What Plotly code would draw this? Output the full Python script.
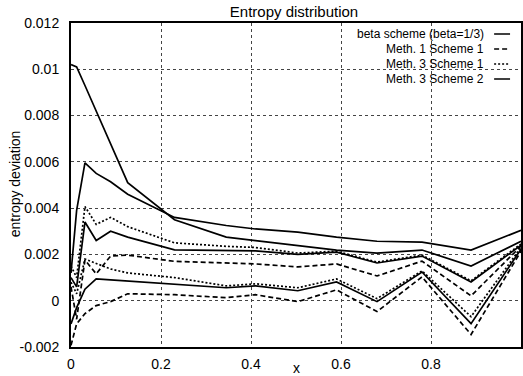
import plotly.graph_objects as go

# ---------------- data ----------------
x = [0, 0.0125, 0.031, 0.056, 0.088, 0.126, 0.23, 0.345, 0.41, 0.504, 0.59, 0.68, 0.78, 0.889, 1.0]

beta_run1 = [0.0102, 0.0101, 0.0093, 0.0082, 0.00675, 0.0051, 0.0035, 0.00275, 0.0026, 0.0024, 0.00219, 0.00206, 0.00219, 0.0015, 0.00257]
beta_run2 = [0.0012, 0.0039, 0.00596, 0.0055, 0.00514, 0.0046, 0.0036, 0.00325, 0.0031, 0.00296, 0.00275, 0.00257, 0.00253, 0.00219, 0.00304]
m1s1_run1 = [0.0006, -0.0008, 0.00176, 0.00116, 0.00193, 0.00197, 0.0017, 0.00162, 0.00159, 0.00146, 0.00159, 0.00107, 0.00171, 0.00021, 0.00236]
m1s1_run2 = [-0.00193, -0.001, -0.00056, -0.00021, -0.00004, 0.0003, 0.00026, 0.00013, 0.00026, -0.00004, 0.00047, -0.00047, 0.00103, -0.00146, 0.00214]
m3s1_run1 = [0.0015, 0.001, 0.00407, 0.0033, 0.0036, 0.0032, 0.0025, 0.00235, 0.0023, 0.00206, 0.00214, 0.00167, 0.00197, 0.00086, 0.00245]
m3s1_run2 = [0.0008, 0.0003, 0.0018, 0.0016, 0.00137, 0.0012, 0.001, 0.00064, 0.00073, 0.00056, 0.00094, 0.00009, 0.00129, -0.00069, 0.00231]
m3s2_run1 = [0.001, 0.0006, 0.0034, 0.0026, 0.003, 0.00275, 0.0022, 0.00215, 0.00215, 0.002, 0.0021, 0.00163, 0.00193, 0.00081, 0.0024]
m3s2_run2 = [-0.001, -0.0003, 0.0005, 0.00094, 0.0009, 0.00085, 0.00073, 0.00056, 0.00064, 0.00043, 0.00081, -0.00004, 0.00124, -0.00099, 0.00223]

legend_names = ["beta scheme (beta=1/3)", "Meth. 1 Scheme 1", "Meth. 3 Scheme 1", "Meth. 3 Scheme 2"]

x_tickvals = [0, 0.2, 0.4, 0.6, 0.8]
x_ticktext = ["0", "0.2", "0.4", "0.6", "0.8"]
y_tickvals = [-0.002, 0, 0.002, 0.004, 0.006, 0.008, 0.01, 0.012]
y_ticktext = ["-0.002", "0", "0.002", "0.004", "0.006", "0.008", "0.01", "0.012"]

# ---------------- styles ----------------
FONT = "Liberation Sans, Arial, Helvetica, sans-serif"
SOLID = "solid"
DASHED = "5px,3px"
DOTTED = "2px,2px"
styles = [SOLID, DASHED, DOTTED, SOLID]

series = [
    (beta_run1, 0), (beta_run2, 0),
    (m1s1_run1, 1), (m1s1_run2, 1),
    (m3s1_run1, 2), (m3s1_run2, 2),
    (m3s2_run1, 3), (m3s2_run2, 3),
]

fig = go.Figure()
for ys, k in series:
    fig.add_trace(go.Scatter(
        x=x, y=ys, mode="lines", name=legend_names[k], showlegend=False,
        line=dict(color="black", width=1.7, dash=styles[k]),
    ))

# plot area geometry (pixels) for the legend placement
L, T, W, H = 71, 23, 452, 324
def px_x(p):
    return (p - L) / W
def px_y(p):
    return (T + H - p) / H

leg_y = [34, 49, 64, 79]
annotations = []
shapes = []
for name, st, yy in zip(legend_names, styles, leg_y):
    annotations.append(dict(
        text=name, xref="paper", yref="paper", x=px_x(488), y=px_y(yy),
        xanchor="right", yanchor="middle", showarrow=False,
        font=dict(family=FONT, size=12, color="black"),
    ))
    shapes.append(dict(
        type="line", xref="paper", yref="paper",
        x0=px_x(496), x1=px_x(512), y0=px_y(yy), y1=px_y(yy),
        line=dict(color="black", width=1.5, dash=st),
    ))

annotations.append(dict(
    text="x", xref="paper", yref="paper", x=px_x(298), y=px_y(368),
    xanchor="center", yanchor="middle", showarrow=False,
    font=dict(family=FONT, size=14, color="black"),
))
annotations.append(dict(
    text="entropy deviation", xref="paper", yref="paper", x=px_x(15), y=px_y(184),
    xanchor="center", yanchor="middle", showarrow=False, textangle=-90,
    font=dict(family=FONT, size=14, color="black"),
))

fig.update_layout(
    width=523, height=376,
    margin=dict(l=L, r=0, t=T, b=376 - T - H, pad=0),
    paper_bgcolor="white", plot_bgcolor="white",
    showlegend=False,
    title=dict(text="Entropy distribution", x=294 / 523, xanchor="center",
               y=1 - 12 / 376, yanchor="middle", yref="container",
               font=dict(family=FONT, size=15, color="black")),
    font=dict(family=FONT, size=14, color="black"),
    annotations=annotations,
    shapes=shapes,
)
fig.update_xaxes(
    range=[0, 1], tickvals=x_tickvals, ticktext=x_ticktext,
    showgrid=True, gridcolor="#444", griddash="dot", gridwidth=1,
    showline=True, linecolor="black", linewidth=2, mirror=True,
    zeroline=False, ticks="", ticklabelstandoff=3,
    tickfont=dict(family=FONT, size=14, color="black"),
)
fig.update_yaxes(
    range=[-0.002, 0.012], tickvals=y_tickvals, ticktext=y_ticktext,
    showgrid=True, gridcolor="#444", griddash="dot", gridwidth=1,
    showline=True, linecolor="black", linewidth=2, mirror=True,
    zeroline=False, ticks="", ticklabelstandoff=7,
    tickfont=dict(family=FONT, size=14, color="black"),
)

fig.write_html("out.html")
